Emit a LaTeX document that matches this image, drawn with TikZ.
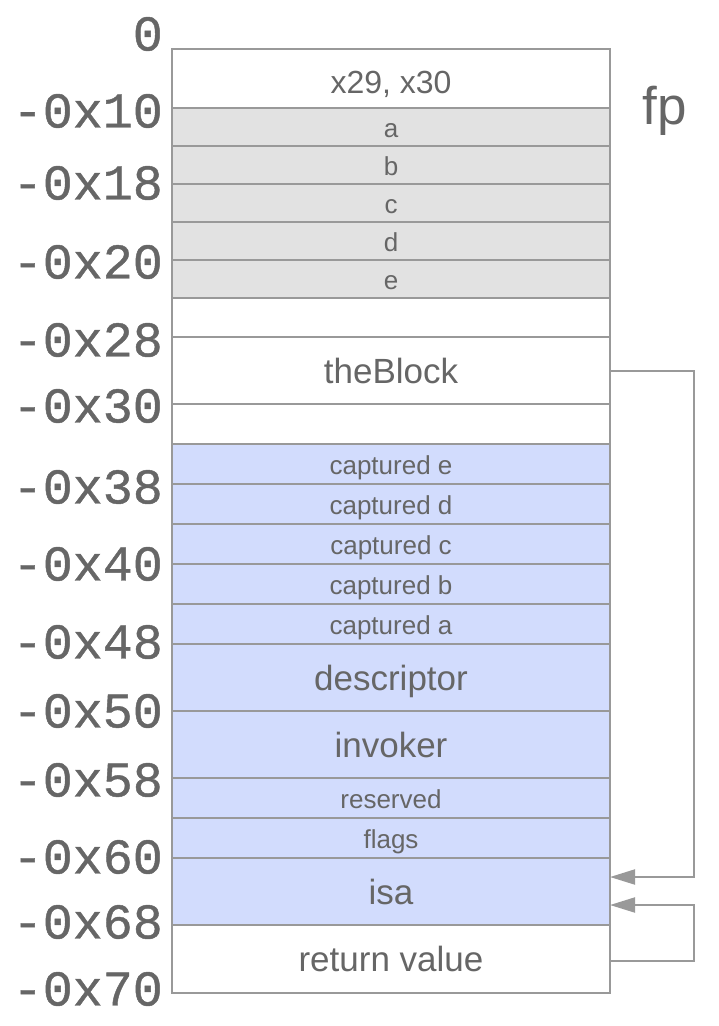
\documentclass[tikz,border=0pt]{standalone}
\usepackage{fontspec}
\setmainfont{Liberation Sans}
\newfontfamily\addrfont{Liberation Mono}[FakeBold=0.9]
\usetikzlibrary{arrows.meta}
\definecolor{linegray}{HTML}{999999}
\definecolor{txtgray}{HTML}{666666}
\definecolor{cellgray}{HTML}{E2E2E2}
\definecolor{cellblue}{HTML}{D2DCFD}
\tikzset{
  cell/.style={draw=linegray, line width=2pt, minimum width=438pt, inner sep=0pt, outer sep=0pt,
    text=txtgray},
  small/.style={cell, font=\fontsize{26}{30}\selectfont, text height=24pt, text depth=3pt},
  big/.style={cell, font=\fontsize{35}{40}\selectfont, text height=29pt, text depth=4pt},
  grayc/.style={fill=cellgray},
  bluec/.style={fill=cellblue},
  whitec/.style={fill=white},
  addr/.style={anchor=east, inner sep=0pt, text=txtgray, font=\addrfont\fontsize{50}{54}\selectfont},
  conn/.style={draw=linegray, line width=2pt, -{Triangle[length=25pt,width=15pt]}},
}
\begin{document}
\begin{tikzpicture}[x=1pt,y=-1pt]
\useasboundingbox (0,0) rectangle (718,1026);
% cells
\node[cell, whitec, minimum height=59pt, font=\fontsize{32}{36}\selectfont, text height=32pt, text depth=3pt] (r0) at (391,78.5) {x29, x30};
\node[small, grayc, minimum height=38pt] (ra) at (391,127) {a};
\node[small, grayc, minimum height=38pt] (rb) at (391,165) {b};
\node[small, grayc, minimum height=38pt] (rc) at (391,203) {c};
\node[small, grayc, minimum height=38pt] (rd) at (391,241) {d};
\node[small, grayc, minimum height=38pt] (re) at (391,279) {e};
\node[cell, whitec, minimum height=39pt] (rgapa) at (391,317.5) {};
\node[big, whitec, minimum height=67pt] (rblock) at (391,370.5) {theBlock};
\node[cell, whitec, minimum height=40pt] (rgapb) at (391,424) {};
\node[small, bluec, minimum height=40pt] (rce) at (391,464) {captured e};
\node[small, bluec, minimum height=40pt] (rcd) at (391,504) {captured d};
\node[small, bluec, minimum height=40pt] (rcc) at (391,544) {captured c};
\node[small, bluec, minimum height=40pt] (rcb) at (391,584) {captured b};
\node[small, bluec, minimum height=40pt] (rca) at (391,624) {captured a};
\node[big, bluec, minimum height=67pt] (rdesc) at (391,677.5) {descriptor};
\node[big, bluec, minimum height=67pt] (rinv) at (391,744.5) {invoker};
\node[small, bluec, minimum height=40pt] (rres) at (391,798) {reserved};
\node[small, bluec, minimum height=40pt] (rflags) at (391,838) {flags};
\node[big, bluec, minimum height=67pt] (risa) at (391,891.5) {isa};
\node[big, whitec, minimum height=68pt] (rret) at (391,959) {return value};
% fp
\node[inner sep=0pt, text=txtgray, font=\fontsize{53}{58}\selectfont] (fp) at (665,111) {fp};
% address labels
\node[addr] (l00) at (163,34) {0};
\node[addr] (l10) at (163,111) {-0x10};
\node[addr] (l18) at (163,183) {-0x18};
\node[addr] (l20) at (163,262) {-0x20};
\node[addr] (l28) at (163,340) {-0x28};
\node[addr] (l30) at (163,406) {-0x30};
\node[addr] (l38) at (163,487) {-0x38};
\node[addr] (l40) at (163,564) {-0x40};
\node[addr] (l48) at (163,642) {-0x48};
\node[addr] (l50) at (163,711) {-0x50};
\node[addr] (l58) at (163,780) {-0x58};
\node[addr] (l60) at (163,857) {-0x60};
\node[addr] (l68) at (163,922) {-0x68};
\node[addr] (l70) at (163,989) {-0x70};
% connectors
\draw[conn] (rblock.east) -- ++(84,0) |- ([yshift=14.5pt]risa.east);
\draw[conn] ([yshift=-2pt]rret.east) -- ++(84,0) |- ([yshift=-13.5pt]risa.east);
\end{tikzpicture}
\end{document}
